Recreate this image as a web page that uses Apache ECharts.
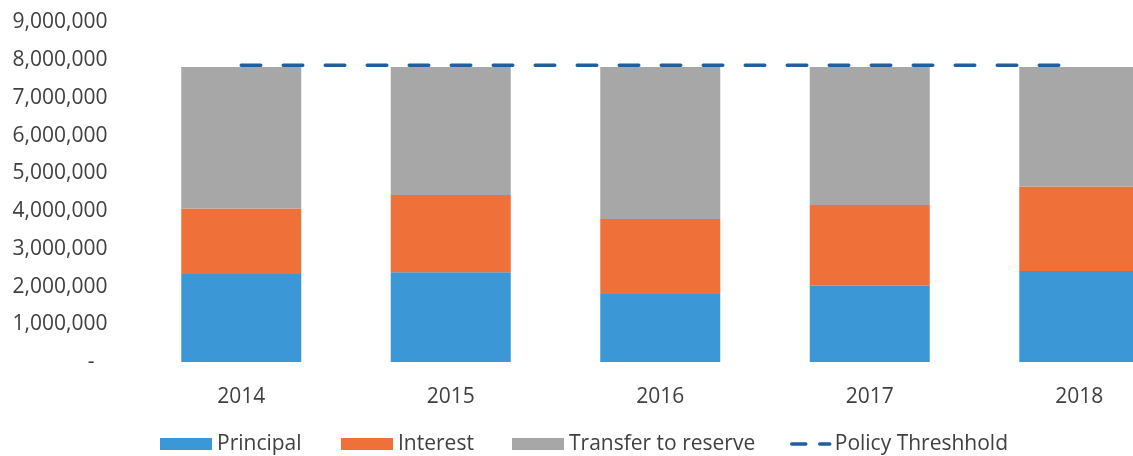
<!DOCTYPE html>
<html>
<head>
<meta charset="utf-8">
<script src="https://cdn.jsdelivr.net/npm/echarts@6/dist/echarts.min.js"></script>
<style>
  html, body { margin: 0; padding: 0; background: #ffffff; overflow: hidden; }
  /* the plot runs past the right edge of the window, so the last bar is cut off */
  #chart { width: 1190px; height: 456px; }
</style>
</head>
<body>
<div id="chart"></div>
<script>
// Annual debt service split, with the policy threshold level
const years = ['2014', '2015', '2016', '2017', '2018'];
const principal = [2330000, 2380000, 1800000, 2020000, 2410000];
const interest = [1740000, 2050000, 1990000, 2140000, 2240000];
const transferToReserve = [3750000, 3390000, 4030000, 3660000, 3170000];
const policyThreshold = [7870000, 7870000, 7870000, 7870000, 7870000];
const yTicks = [0, 1000000, 2000000, 3000000, 4000000, 5000000, 6000000, 7000000, 8000000, 9000000];

const FONT = 'Open Sans';
const TEXT = '#404040';
const COLORS = { principal: '#3b97d6', interest: '#ef7139', reserve: '#a7a7a7', policy: '#1f5f9e' };

function legendFor(name, left, extra) {
  return Object.assign({
    show: true,
    left: left,
    top: 432,
    orient: 'horizontal',
    itemWidth: 52,
    itemHeight: 12,
    itemGap: 0,
    padding: 0,
    selectedMode: false,
    textStyle: { fontFamily: FONT, fontSize: 21, color: TEXT, lineHeight: 24 },
    data: [{ name: name, icon: 'rect' }]
  }, extra || {});
}

const chart = echarts.init(document.getElementById('chart'), null, { renderer: 'canvas' });
chart.setOption({
  backgroundColor: '#ffffff',
  animation: false,
  grid: { left: 136.5, right: 6, top: 22.5, bottom: 94 },
  legend: [
    legendFor('Principal', 160),
    legendFor('Interest', 341),
    legendFor('Transfer to reserve', 512),
    legendFor('Policy Threshhold', 790, {
      itemWidth: 38,
      itemHeight: 12,
      data: [{
        name: 'Policy Threshhold',
        itemStyle: { opacity: 0 },
        lineStyle: { type: [14, 14], width: 3.5, cap: 'round', color: COLORS.policy }
      }]
    })
  ],
  xAxis: {
    type: 'category',
    data: years,
    axisLine: { show: false },
    axisTick: { show: false },
    splitLine: { show: false },
    axisLabel: { fontFamily: FONT, fontSize: 21, color: TEXT, margin: 23, lineHeight: 24 }
  },
  yAxis: {
    type: 'value',
    min: yTicks[0],
    max: yTicks[yTicks.length - 1],
    interval: yTicks[1] - yTicks[0],
    axisLine: { show: false },
    axisTick: { show: false },
    splitLine: { show: false },
    axisLabel: {
      fontFamily: FONT,
      fontSize: 21,
      color: TEXT,
      margin: 29,
      formatter: v => v === 0 ? '{z|-}' : v.toLocaleString('en-US'),
      rich: { z: { fontFamily: FONT, fontSize: 21, color: TEXT, padding: [0, 13, 0, 0] } }
    }
  },
  series: [
    { name: 'Principal', type: 'bar', stack: 'total', barWidth: 120, data: principal,
      itemStyle: { color: COLORS.principal } },
    { name: 'Interest', type: 'bar', stack: 'total', barWidth: 120, data: interest,
      itemStyle: { color: COLORS.interest } },
    { name: 'Transfer to reserve', type: 'bar', stack: 'total', barWidth: 120, data: transferToReserve,
      itemStyle: { color: COLORS.reserve } },
    { name: 'Policy Threshhold', type: 'line', data: policyThreshold, symbol: 'none', z: 5,
      lineStyle: { color: COLORS.policy, width: 3.5, type: [19.5, 22.5], cap: 'round' },
      itemStyle: { color: COLORS.policy } }
  ]
});
</script>
</body>
</html>
